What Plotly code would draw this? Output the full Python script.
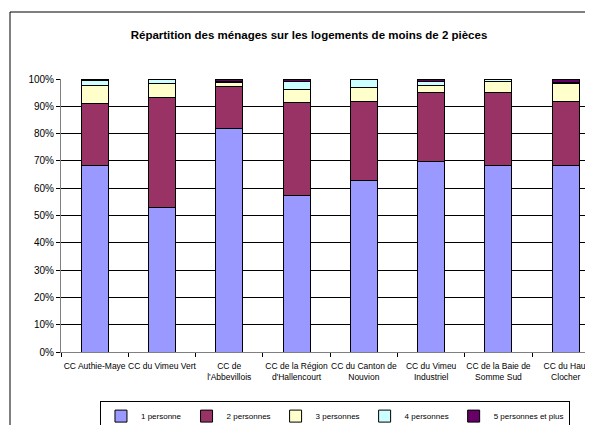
import plotly.graph_objects as go

# Répartition des ménages (moins de 2 pièces), en % par communauté de communes
communes = ['CC Authie-Maye', 'CC du Vimeu Vert', 'CC de<br>l\'Abbevillois',
            'CC de la Région<br>d\'Hallencourt', 'CC du Canton de<br>Nouvion',
            'CC du Vimeu<br>Industriel', 'CC de la Baie de<br>Somme Sud',
            'CC du Haut<br>Clocher']

une_personne = [68.5, 53.0, 81.9, 57.3, 63.0, 69.6, 68.3, 68.5]
deux_personnes = [22.5, 40.3, 15.3, 34.0, 28.8, 25.5, 26.8, 23.3]
trois_personnes = [6.6, 5.1, 1.7, 4.9, 5.2, 2.7, 4.1, 6.6]
quatre_personnes = [1.7, 1.5, 0.2, 3.0, 3.0, 1.4, 0.8, 0.5]
cinq_personnes = [0.7, 0.1, 0.9, 0.8, 0.0, 0.8, 0.0, 1.1]

series = [
    ('1 personne', une_personne, '#9999FF'),
    ('2 personnes', deux_personnes, '#993366'),
    ('3 personnes', trois_personnes, '#FFFFCC'),
    ('4 personnes', quatre_personnes, '#CCFFFF'),
    ('5 personnes et plus', cinq_personnes, '#660066'),
]

FONT = 'Liberation Sans, Arial, sans-serif'

# the page body adds an 8px margin, so the figure is 8px smaller and
# everything is placed 8px up/left of where it shows in the picture
W, H = 585, 417

fig = go.Figure()
for name, values, color in series:
    fig.add_trace(go.Bar(
        x=communes, y=values, name=name, width=0.4,
        marker=dict(color=color, line=dict(color='#000000', width=1)),
    ))

fig.update_layout(
    width=W, height=H,
    barmode='stack',
    paper_bgcolor='white', plot_bgcolor='white',
    margin=dict(l=53, r=0, t=71, b=73, autoexpand=False),
    font=dict(family=FONT, size=9, color='black'),
    title=dict(
        text='Répartition des ménages sur les logements de moins de 2 pièces',
        x=301 / W, xanchor='center', y=1 - 27 / H, yanchor='middle',
        font=dict(family=FONT, size=11.5, color='black', weight='bold'),
    ),
    showlegend=True,
    legend=dict(
        orientation='h', x=0.515, xanchor='center', y=-0.178, yanchor='top',
        bordercolor='black', borderwidth=1, bgcolor='white',
        font=dict(family=FONT, size=8), traceorder='normal',
        itemwidth=30, tracegroupgap=0,
    ),
)

fig.update_xaxes(
    type='category', range=[-0.5, -0.5 + 532 / 67.3], automargin=False,
    showline=True, linecolor='#808080', linewidth=1,
    ticks='outside', tickson='boundaries', ticklen=4, tickcolor='black',
    showgrid=False, tickfont=dict(family=FONT, size=8.5), tickangle=0,
    ticklabelstandoff=6,
)

fig.update_yaxes(
    range=[0, 100], dtick=10, ticksuffix='%', automargin=False,
    showline=True, linecolor='#808080', linewidth=1,
    ticks='outside', ticklen=4, tickcolor='black',
    showgrid=True, gridcolor='black', gridwidth=1,
    tickfont=dict(family=FONT, size=10),
)

# outer chart frame (cut off at right and bottom as in the original)
fig.add_shape(type='rect', xref='paper', yref='paper',
              x0=(2 - 53) / 532, x1=1.05, y0=-0.4, y1=(344 - 4) / 273,
              line=dict(color='black', width=1), layer='below')

fig.write_html('out.html', default_width='585px', default_height='417px')
